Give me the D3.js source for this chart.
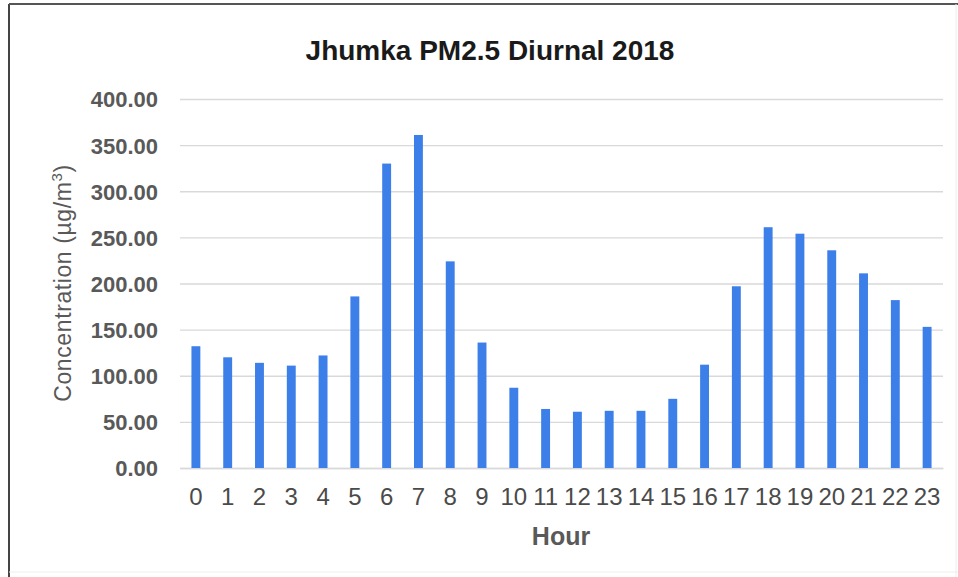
<!DOCTYPE html>
<html>
<head>
<meta charset="utf-8">
<script src="https://cdn.jsdelivr.net/npm/d3@7"></script>
<style>
  body { margin: 0; background: #fff; }
  svg { display: block; }
</style>
</head>
<body>
<div id="plot"></div>
<script>
const w = 958;
const h = 577;

// data
const hours = ["0","1","2","3","4","5","6","7","8","9","10","11","12","13","14","15","16","17","18","19","20","21","22","23"];
const pm25 = [132, 120, 114, 111, 122, 186, 330, 361, 224, 136, 87, 64, 61, 62, 62, 75, 112, 197, 261, 254, 236, 211, 182, 153];
const yTicks = [0, 50, 100, 150, 200, 250, 300, 350, 400];

const plotLeft = 180, plotRight = 943, plotTop = 99, plotBottom = 468;
const font = "Liberation Sans, Arial, sans-serif";

const svg = d3.select("#plot").
append("svg").
attr("width", w).
attr("height", h);

// frame
svg.append("line").attr("x1", 9).attr("y1", 4).attr("x2", 9).attr("y2", h).attr("stroke", "#444").attr("stroke-width", 2);
svg.append("line").attr("x1", 9).attr("y1", 4).attr("x2", w).attr("y2", 4).attr("stroke", "#555").attr("stroke-width", 2);
svg.append("line").attr("x1", 956).attr("y1", 4).attr("x2", 956).attr("y2", h).attr("stroke", "#eee");
svg.append("line").attr("x1", 9).attr("y1", 572).attr("x2", w).attr("y2", 572).attr("stroke", "#eee");

const xScale = d3.scaleBand().
domain(hours).
range([plotLeft, plotRight]).
paddingInner(0.72).
paddingOuter(0.36);

const yScale = d3.scaleLinear().
domain([0, 400]).
range([plotBottom, plotTop]);

// gridlines + y labels
const yAxis = d3.axisLeft(yScale).
tickValues(yTicks).
tickSize(-(plotRight - plotLeft)).
tickPadding(22).
tickFormat(d3.format(".2f"));

const gy = svg.append("g").
attr("transform", "translate(" + plotLeft + ",0)").
call(yAxis);
gy.select(".domain").remove();
gy.selectAll(".tick line").attr("stroke", "#d9d9d9").attr("stroke-width", 1.3);
gy.selectAll(".tick text").
attr("fill", "#595959").
attr("dy", "0.36em").
style("font-family", font).
style("font-size", "22px").
style("font-weight", "bold");

const xAxis = d3.axisBottom(xScale).tickSize(0).tickPadding(20);
const gx = svg.append("g").
attr("transform", "translate(0," + plotBottom + ")").
call(xAxis);
gx.select(".domain").attr("stroke", "#d9d9d9").attr("stroke-width", 1.3);
gx.selectAll(".tick text").
attr("fill", "#4a4a4a").
style("font-family", font).
style("font-size", "24px");

// bars
svg.selectAll("rect.bar").
data(pm25).
enter().
append("rect").
attr("class", "bar").
attr("x", (d, i) => xScale(hours[i])).
attr("y", d => yScale(d)).
attr("width", xScale.bandwidth()).
attr("height", d => plotBottom - yScale(d)).
attr("fill", "#3d7fe9");

// title
svg.append("text").
attr("x", 490).
attr("y", 60).
attr("text-anchor", "middle").
style("font-family", font).
style("font-size", "28px").
style("font-weight", "bold").
attr("fill", "#1a1a1a").
text("Jhumka PM2.5 Diurnal 2018");

// axis titles
svg.append("text").
attr("x", 561).
attr("y", 545).
attr("text-anchor", "middle").
style("font-family", font).
style("font-size", "25px").
style("font-weight", "bold").
attr("fill", "#595959").
text("Hour");

const yt = svg.append("text").
attr("transform", "translate(71,283) rotate(-90)").
attr("text-anchor", "middle").
style("font-family", font).
style("font-size", "23px").
style("letter-spacing", "0.6px").
attr("fill", "#595959");
yt.append("tspan").text("Concentration (µg/m");
yt.append("tspan").attr("dy", -9).style("font-size", "15px").text("3");
yt.append("tspan").attr("dy", 9).text(")");
</script>
</body>
</html>
